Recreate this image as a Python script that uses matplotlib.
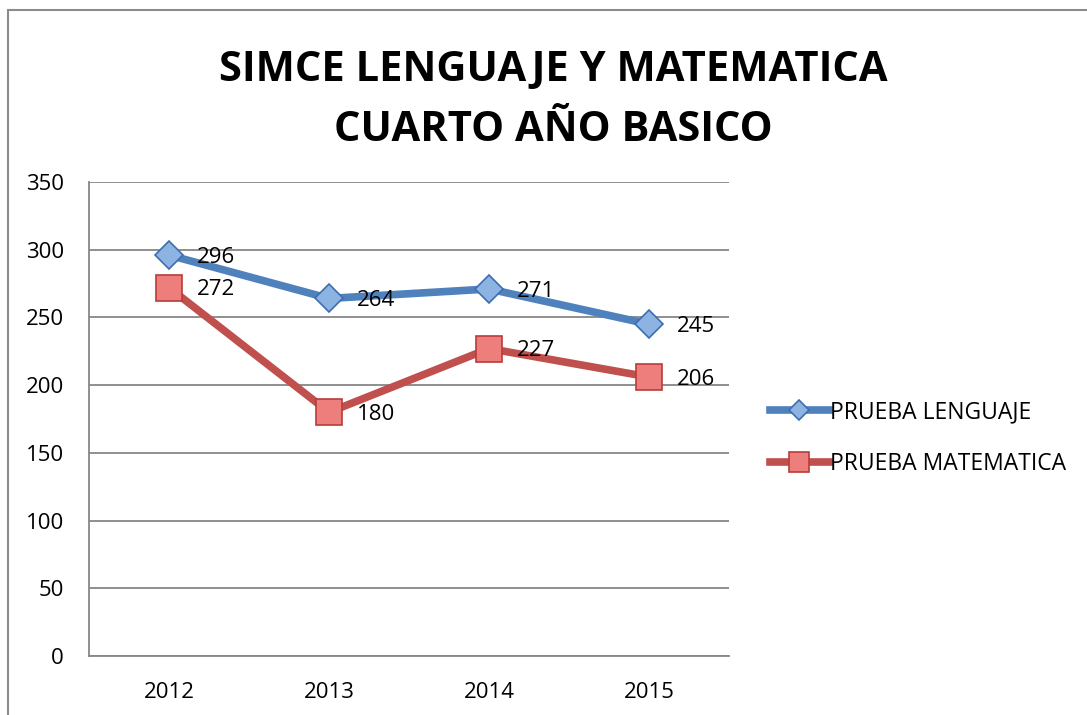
import matplotlib.pyplot as plt
from matplotlib.patches import Rectangle

years = ['2012', '2013', '2014', '2015']
lenguaje = [296, 264, 271, 245]
matematica = [272, 180, 227, 206]

plt.rcParams['font.family'] = ['Open Sans', 'DejaVu Sans']

fig = plt.figure(figsize=(10.87, 7.15), dpi=100)
ax = fig.add_axes([0.0819, 0.0825, 0.5888, 0.663])

# outer chart border
fig.patches.append(Rectangle((8 / 1087, -0.1), 1.2, 1 - 10 / 715 + 0.1,
                             transform=fig.transFigure, fill=False,
                             edgecolor='#8c8c8c', linewidth=1.5))

x = range(len(years))
ax.plot(x, lenguaje, color='#4F81BD', linewidth=5.5, marker='D', markersize=14,
        markerfacecolor='#8DB3E2', markeredgecolor='#3C6FB0', markeredgewidth=1.2,
        label='PRUEBA LENGUAJE', zorder=3)
ax.plot(x, matematica, color='#C0504D', linewidth=5.5, marker='s', markersize=19,
        markerfacecolor='#EE7E7B', markeredgecolor='#B83D3A', markeredgewidth=1.2,
        label='PRUEBA MATEMATICA', zorder=3)

for i, v in enumerate(lenguaje):
    ax.annotate(str(v), (i, v), xytext=(20, -1.5), textcoords='offset points',
                va='center', ha='left', fontsize=16)
for i, v in enumerate(matematica):
    ax.annotate(str(v), (i, v), xytext=(20, -1.5), textcoords='offset points',
                va='center', ha='left', fontsize=16)

ax.set_xlim(-0.5, 3.5)
ax.set_ylim(0, 350)
ax.set_yticks(range(0, 351, 50))
ax.set_xticks(list(x))
ax.set_xticklabels(years)
ax.tick_params(length=0, labelsize=16)
ax.tick_params(axis='x', pad=19)
ax.tick_params(axis='y', pad=18)
ax.yaxis.grid(True, color='#878787', linewidth=1.3)
ax.set_axisbelow(True)
for s in ['top', 'right']:
    ax.spines[s].set_visible(False)
for s in ['left', 'bottom']:
    ax.spines[s].set_color('#878787')
    ax.spines[s].set_linewidth(1.3)

fig.text(0.509, 0.8594, 'SIMCE LENGUAJE Y MATEMATICA\nCUARTO AÑO BASICO',
         ha='center', va='center', fontsize=30, fontweight='bold', linespacing=1.63)

fig.legend(loc='center left', bbox_to_anchor=(0.689, 0.387), frameon=False,
           fontsize=16.5, handlelength=2.6, handletextpad=0.05, labelspacing=1.22,
           markerscale=0.75)

fig.savefig('out.png', dpi=100)
